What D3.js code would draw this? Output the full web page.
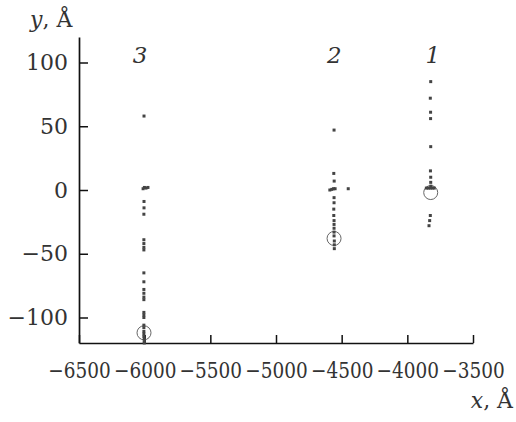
<!DOCTYPE html>
<html>
<head>
<meta charset="utf-8">
<script src="https://cdn.jsdelivr.net/npm/d3@7"></script>
<style>
  body { margin: 0; background: #fff; }
</style>
</head>
<body>
<div id="chart"></div>
<script>
// point data per group (x, y in Å)
const group3X = [-6005, -6012, -6002, -5990, -5975, -6005, -6005, -6006, -6006, -6006, -6006, -6006, -6006, -6006, -6006, -6006, -6006, -6006, -6006, -6006, -6006, -6006, -6006, -6006, -6006, -6006, -6003, -6003, -6003];
const group3Y = [58, 1, 2, 1.5, 2, -9, -14, -19, -39, -42, -45, -47, -65, -72, -78, -81, -84, -86, -96, -98, -100, -106, -108, -111, -113, -115, -117, -119, -120];

const group2X = [-4558, -4560, -4557, -4590, -4575, -4562, -4550, -4450, -4558, -4558, -4560, -4560, -4558, -4558, -4558, -4558, -4558, -4556, -4556, -4556];
const group2Y = [47, 13, 7, 0, 0.5, 1, 1, 1, -6, -10, -15, -20, -24, -27, -30, -33, -36, -40, -43, -46];

const group1X = [-3822, -3825, -3823, -3823, -3822, -3824, -3822, -3822, -3821, -3855, -3840, -3825, -3810, -3795, -3825, -3830, -3835];
const group1Y = [85, 72, 61, 56, 34, 15, 10, 6, 3, 1.5, 1.5, 1.5, 1.5, 1.5, -20, -24, -28];

// open circles marking each group
const circleX = [-6005, -4558, -3822];
const circleY = [-112, -38, -2];

// group labels
const groupLabels = ["3", "2", "1"];
const groupLabelX = [-6035, -4555, -3805];
const groupLabelY = [100, 100, 100];

const xTicks = [-6500, -6000, -5500, -5000, -4500, -4000, -3500];
const yTicks = [-100, -50, 0, 50, 100];

const serif = "'DejaVu Serif', serif";

function init() {
  const width = 516;
  const height = 422;
  const ink = "#333";

  const x = d3.scaleLinear().domain([-6500, -3500]).range([79, 473]);
  const y = d3.scaleLinear().domain([-120, 120]).range([343, 37]);

  const svg = d3.select("#chart").append("svg")
      .attr("width", width)
      .attr("height", height)
      .attr("font-family", serif);

  // axes, ticks pointing inward
  const xAxis = svg.append("g")
      .attr("transform", `translate(0,${y(-120)})`)
      .call(d3.axisBottom(x).tickValues(xTicks).tickFormat(d3.format("d"))
        .tickSizeInner(-8).tickSizeOuter(0).tickPadding(19));

  const yAxis = svg.append("g")
      .attr("transform", `translate(${x(-6500)},0)`)
      .call(d3.axisLeft(y).tickValues(yTicks).tickFormat(d3.format("d"))
        .tickSizeInner(-9).tickSizeOuter(0).tickPadding(11));

  [xAxis, yAxis].forEach(g => {
    g.attr("font-family", serif).attr("font-size", 22);
    g.select(".domain").attr("stroke", "#111").attr("stroke-width", 1.7);
    g.selectAll(".tick line").attr("stroke", "#111").attr("stroke-width", 1.5);
    g.selectAll(".tick text").attr("fill", ink);
  });

  // x labels sit edge to edge in the reference, so squeeze them a bit
  xAxis.selectAll(".tick text").attr("transform", "scale(0.84,1)");

  // axis titles
  const yTitle = svg.append("text")
      .attr("x", 30).attr("y", 27)
      .attr("fill", ink)
      .attr("font-size", 22);
  yTitle.append("tspan").attr("font-style", "italic").text("y");
  yTitle.append("tspan").text(", Å");

  const xTitle = svg.append("text")
      .attr("x", 513).attr("y", 408)
      .attr("text-anchor", "end")
      .attr("fill", ink)
      .attr("font-size", 22);
  xTitle.append("tspan").attr("font-style", "italic").text("x");
  xTitle.append("tspan").text(", Å");

  // group numbers
  svg.selectAll("text.group")
    .data(groupLabels)
    .join("text")
      .attr("class", "group")
      .attr("x", (d, i) => x(groupLabelX[i]))
      .attr("y", (d, i) => y(groupLabelY[i]))
      .attr("text-anchor", "middle")
      .attr("fill", ink)
      .attr("font-style", "italic")
      .attr("font-size", 23)
      .text(d => d);

  // open circles
  svg.selectAll("circle.ring")
    .data(circleX)
    .join("circle")
      .attr("class", "ring")
      .attr("cx", d => x(d))
      .attr("cy", (d, i) => y(circleY[i]))
      .attr("r", 7)
      .attr("fill", "none")
      .attr("stroke", "#666")
      .attr("stroke-width", 1);

  // dots
  const points = [];
  [[group3X, group3Y], [group2X, group2Y], [group1X, group1Y]].forEach(([xs, ys]) => {
    xs.forEach((v, i) => points.push([v, ys[i]]));
  });

  svg.selectAll("rect.dot")
    .data(points)
    .join("rect")
      .attr("class", "dot")
      .attr("x", d => x(d[0]) - 1.5)
      .attr("y", d => y(d[1]) - 1.5)
      .attr("width", 3)
      .attr("height", 3)
      .attr("fill", "#444");
}

document.addEventListener("DOMContentLoaded", () => { init(); }, false);
</script>
</body>
</html>
